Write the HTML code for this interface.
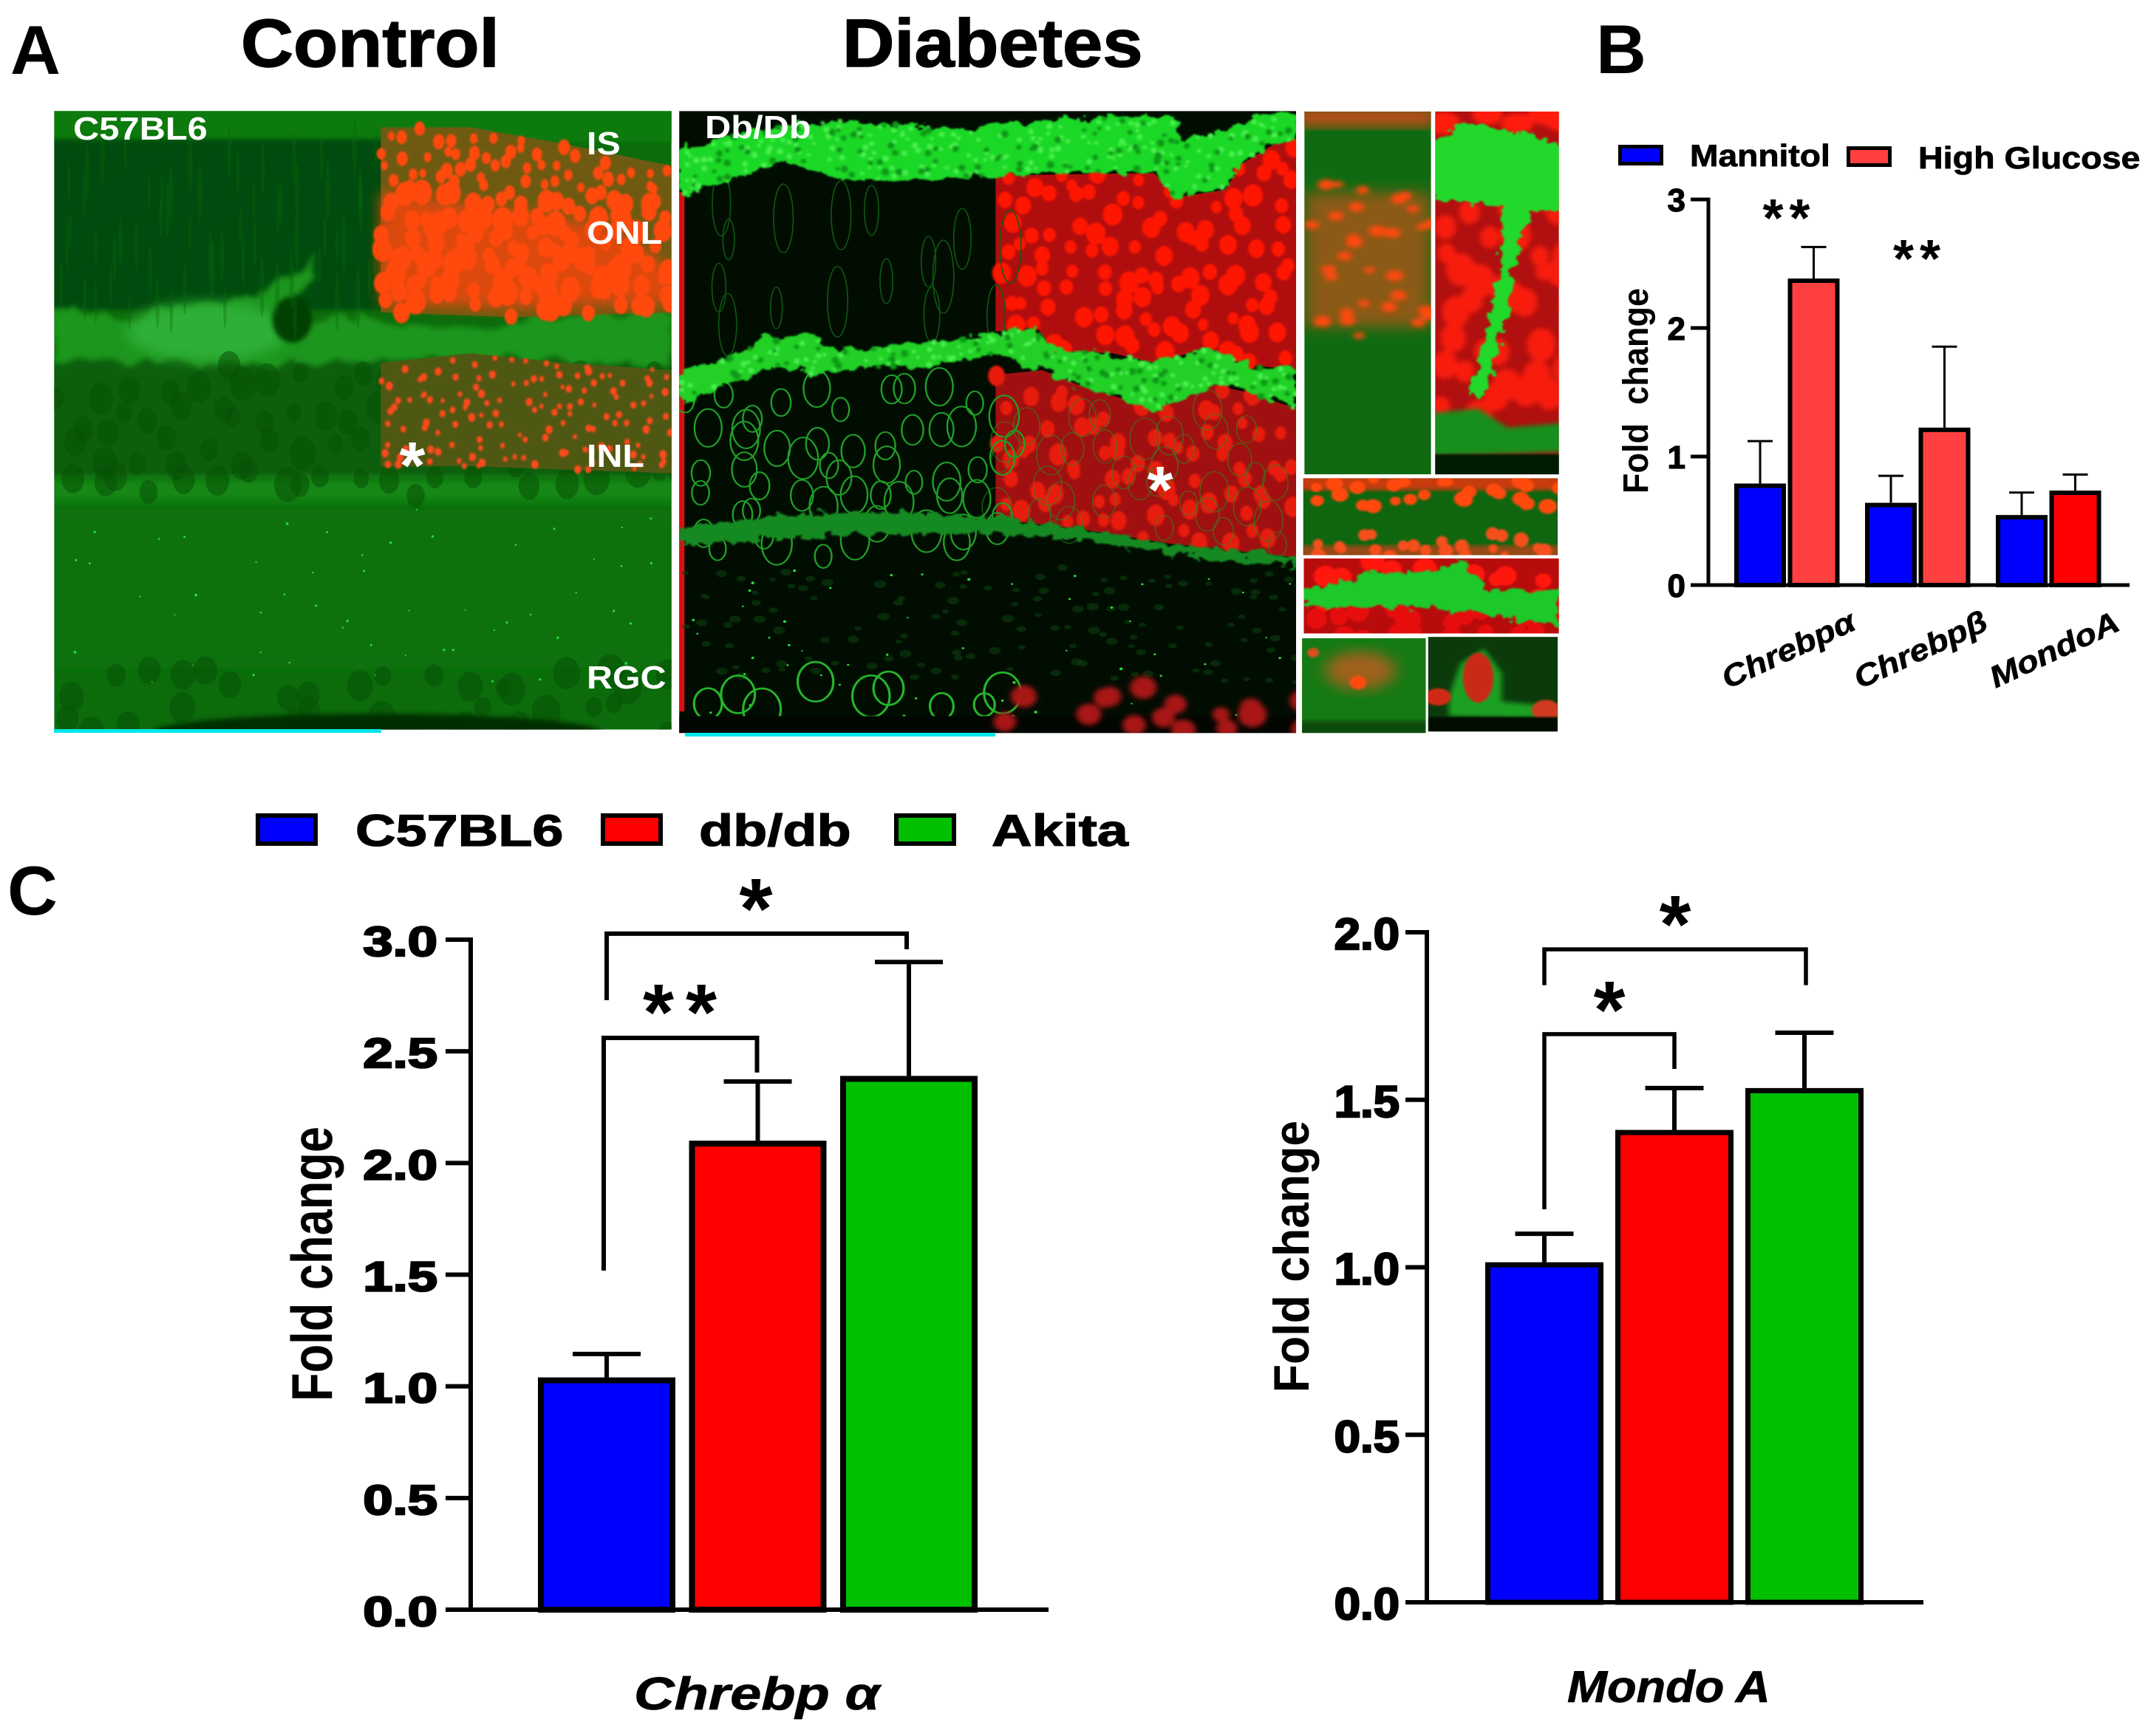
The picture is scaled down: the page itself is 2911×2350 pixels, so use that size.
<!DOCTYPE html>
<html lang="en">
<head>
<meta charset="utf-8">
<title>Chrebp and Mondo A in diabetic retina</title>
<style>
html,body{margin:0;padding:0;background:#fff;}
svg{display:block;font-family:"Liberation Sans",sans-serif;}
.pl{font-weight:700;fill:#000;}
.wl{font-weight:700;fill:#fff;}
</style>
</head>
<body>
<svg id="figure" xmlns="http://www.w3.org/2000/svg" width="2911" height="2350" viewBox="0 0 2911 2350">
<defs>
<filter id="b2" x="-10%" y="-10%" width="120%" height="120%"><feGaussianBlur stdDeviation="2"/></filter>
<filter id="b4" x="-10%" y="-10%" width="120%" height="120%"><feGaussianBlur stdDeviation="5"/></filter>
<filter id="b12" x="-20%" y="-20%" width="140%" height="140%"><feGaussianBlur stdDeviation="14"/></filter>
<filter id="rough" x="-8%" y="-25%" width="116%" height="150%"><feTurbulence type="fractalNoise" baseFrequency="0.045" numOctaves="3" seed="3" result="n"/><feDisplacementMap in="SourceGraphic" in2="n" scale="34" xChannelSelector="R" yChannelSelector="G"/><feGaussianBlur stdDeviation="1.6"/></filter>
<filter id="roughSoft" x="-8%" y="-25%" width="116%" height="150%"><feTurbulence type="fractalNoise" baseFrequency="0.02" numOctaves="3" seed="8" result="n"/><feDisplacementMap in="SourceGraphic" in2="n" scale="50" xChannelSelector="R" yChannelSelector="G"/><feGaussianBlur stdDeviation="6"/></filter>
<clipPath id="clipControl"><rect x="115" y="231" width="1310" height="1287"/></clipPath>
<clipPath id="clipDiabetes"><rect x="24" y="231" width="1047" height="1294"/></clipPath>
<clipPath id="clipI1"><rect x="1085" y="232" width="215" height="755"/></clipPath>
<clipPath id="clipI2"><rect x="1307" y="232" width="210" height="755"/></clipPath>
<clipPath id="clipI3"><rect x="1083" y="995" width="432" height="160"/></clipPath>
<clipPath id="clipI4"><rect x="1084" y="1162" width="433" height="156"/></clipPath>
<clipPath id="clipI5"><rect x="1081" y="1328" width="210" height="197"/></clipPath>
<clipPath id="clipI6"><rect x="1295" y="1325" width="220" height="197"/></clipPath>
</defs>

<text class="pl" x="14" y="100" font-size="94">A</text>
<text class="pl" x="2160" y="99" font-size="94">B</text>
<text class="pl" x="10" y="1238" font-size="94">C</text>
<text class="pl" stroke="#000" stroke-width="1.5" transform="translate(326,90) scale(1.07,1)" font-size="92">Control</text>
<text class="pl" stroke="#000" stroke-width="1.5" transform="translate(1140,90) scale(1.06,1)" font-size="92">Diabetes</text>

<g id="controlMicro" transform="scale(0.63776,0.65062)">
  <g clip-path="url(#clipControl)">
    <rect x="115" y="231" width="1310" height="1287" fill="#0c6c0c"/>
    <rect x="100" y="225" width="1340" height="70" fill="#0d7a10" filter="url(#b4)"/>
    <rect x="100" y="290" width="720" height="355" fill="#064c08" filter="url(#b4)"/>
    <rect x="100" y="745" width="1340" height="250" fill="#0a5f0b" filter="url(#b4)"/>
    <polygon fill="#1a961f" filter="url(#roughSoft)" points="115,640 250,665 400,640 520,620 680,540 600,680 720,650 808,670 1000,680 1425,640 1425,760 1000,745 808,750 600,760 300,750 115,750"/>
    <ellipse cx="440" cy="690" rx="170" ry="60" fill="#2fb038" filter="url(#b12)"/>
    <ellipse cx="620" cy="665" rx="42" ry="48" fill="#043f06" filter="url(#b4)"/>
    <rect x="100" y="995" width="1340" height="50" fill="#148a15" filter="url(#b12)"/>
    <rect x="100" y="1060" width="1340" height="330" fill="#0d720e" filter="url(#b12)"/>
    <g id="controlInner"></g>
    <ellipse cx="800" cy="1525" rx="480" ry="40" fill="#032f04" filter="url(#b4)"/>
    <polygon fill="#6f5a12" points="808,265 1000,265 1200,300 1425,345 1425,650 1090,660 808,650"/>
    <polygon fill="#dc4a10" filter="url(#b12)" points="808,400 1300,470 1425,560 1425,630 1090,640 808,630"/>
    <polygon fill="#4f5812" points="808,755 1000,735 1200,755 1425,770 1425,985 1000,970 808,970"/>
    <g id="controlNuclei" filter="url(#b2)"></g>
  </g>
</g>
<rect x="73" y="987" width="443" height="5" fill="#00e8e8"/>
<text class="wl" transform="translate(99,189) scale(1.11,1)" font-size="44">C57BL6</text>
<text class="wl" transform="translate(794,209) scale(1.1,1)" font-size="44">IS</text>
<text class="wl" transform="translate(794,330) scale(1.1,1)" font-size="44">ONL</text>
<text class="wl" transform="translate(794,632) scale(1.1,1)" font-size="44">INL</text>
<text class="wl" transform="translate(794,932) scale(1.1,1)" font-size="44">RGC</text>
<text class="wl" x="558" y="661" text-anchor="middle" font-size="90">*</text>

<g id="diabetesMicro" transform="translate(900,0) scale(0.79745,0.65062)">
  <g clip-path="url(#clipDiabetes)">
    <rect x="24" y="231" width="1047" height="1294" fill="#020d02"/>
    <rect x="24" y="400" width="9" height="1080" fill="#d81010"/>
    <polygon fill="#b00e0e" points="561,365 830,360 870,410 950,395 980,340 1040,295 1071,295 1071,770 1000,760 920,725 830,755 760,735 660,730 630,680 561,690"/>
    <polygon fill="#a01010" points="561,780 640,770 700,800 830,850 930,800 1000,820 1071,850 1071,1160 850,1130 700,1100 561,1080"/>
    <g id="diabetesNuclei" filter="url(#b2)"></g>
    <g id="diabetesOutlines"></g>
    <polygon fill="#1fd828" filter="url(#rough)" points="24,310 150,270 300,250 500,270 700,245 860,240 880,290 960,270 1010,232 1071,232 1071,295 1020,300 980,340 950,390 900,400 860,410 830,360 700,360 560,365 400,375 290,370 200,335 110,375 24,410"/>
    <polygon fill="#20d028" filter="url(#rough)" points="24,770 100,750 170,700 240,695 290,730 400,720 500,705 630,680 660,730 760,735 830,755 920,725 1000,760 1071,770 1071,850 1000,820 930,800 880,830 830,850 700,800 640,770 560,740 450,760 320,770 250,780 200,760 100,800 24,840"/>
    <polygon fill="#178a20" filter="url(#rough)" points="24,1100 200,1070 400,1065 561,1078 700,1098 850,1130 1071,1160 1071,1178 850,1152 700,1122 561,1110 300,1112 24,1135"/>
    <g id="diabetesBandTexture" filter="url(#b2)"></g>
    <g id="diabetesLower"></g>
    <rect x="24" y="1490" width="1047" height="40" fill="#010601"/>
    <g id="diabetesBottomRed" filter="url(#b4)"></g>
  </g>
  <g clip-path="url(#clipI1)">
    <rect x="1085" y="232" width="215" height="755" fill="#106a12"/>
    <rect x="1070" y="225" width="240" height="38" fill="#c84a12" filter="url(#b12)"/>
    <rect x="1085" y="400" width="215" height="280" fill="#8a5a14" filter="url(#b12)"/>
    <g id="inset1Nuclei" filter="url(#b4)"></g>
  </g>
  <g clip-path="url(#clipI2)">
    <rect x="1307" y="232" width="210" height="755" fill="#b01010"/>
    <g id="inset2Nuclei" filter="url(#b4)"></g>
    <polygon fill="#20d82a" filter="url(#rough)" points="1300,300 1360,250 1420,270 1525,300 1525,430 1470,440 1440,560 1420,700 1390,820 1370,830 1390,700 1420,560 1420,430 1300,410"/>
    <polygon fill="#148f1c" filter="url(#b4)" points="1300,860 1380,850 1430,890 1525,880 1525,940 1300,950"/>
    <rect x="1300" y="945" width="225" height="50" fill="#021a02" filter="url(#b2)"/>
  </g>
  <g clip-path="url(#clipI3)">
    <rect x="1083" y="995" width="432" height="160" fill="#10660f"/>
    <rect x="1075" y="990" width="450" height="30" fill="#c83a10" filter="url(#b4)"/>
    <rect x="1075" y="1135" width="450" height="25" fill="#9a4a12" filter="url(#b4)"/>
    <g id="inset3Nuclei" filter="url(#b2)"></g>
  </g>
  <g clip-path="url(#clipI4)">
    <rect x="1084" y="1162" width="433" height="156" fill="#b80c0c"/>
    <g id="inset4Nuclei" filter="url(#b2)"></g>
    <polygon fill="#1fc82a" filter="url(#rough)" points="1084,1230 1180,1195 1280,1190 1360,1170 1400,1230 1517,1225 1517,1300 1400,1280 1300,1265 1180,1260 1084,1265"/>
  </g>
  <g clip-path="url(#clipI5)">
    <rect x="1081" y="1328" width="210" height="197" fill="#147a14"/>
    <ellipse cx="1180" cy="1395" rx="60" ry="40" fill="#a0601a" filter="url(#b12)"/>
    <circle cx="1176" cy="1420" r="14" fill="#ff4a10" filter="url(#b2)"/>
    <circle cx="1100" cy="1358" r="10" fill="#d8501a" filter="url(#b2)"/>
    <rect x="1075" y="1500" width="220" height="30" fill="#0c4a0c" filter="url(#b4)"/>
  </g>
  <g clip-path="url(#clipI6)">
    <rect x="1295" y="1325" width="220" height="197" fill="#0b3a0b"/>
    <polygon fill="#1aa022" filter="url(#b4)" points="1350,1380 1390,1350 1420,1400 1420,1460 1515,1470 1515,1495 1330,1490 1330,1450"/>
    <ellipse cx="1380" cy="1410" rx="26" ry="52" fill="#c82a14" filter="url(#b2)"/>
    <ellipse cx="1312" cy="1450" rx="22" ry="18" fill="#d02a18" filter="url(#b2)"/>
    <ellipse cx="1495" cy="1478" rx="24" ry="22" fill="#d03a22" filter="url(#b2)"/>
    <rect x="1295" y="1492" width="220" height="32" fill="#030a03" filter="url(#b2)"/>
  </g>
</g>
<rect x="927" y="992" width="420" height="5" fill="#00e8e8"/>
<text class="wl" transform="translate(954,187) scale(1.11,1)" font-size="44">Db/Db</text>
<text class="wl" x="1570" y="694" text-anchor="middle" font-size="90">*</text>

<g id="chartB"></g>
<g id="chartC1"></g>
<g id="chartC2"></g>
<g id="legendC"></g>
</svg>

<script>
/* Chart data */
const bCategories = ['Chrebp\u03B1', 'Chrebp\u03B2', 'MondoA'];
const bSeriesNames = ['Mannitol', 'High Glucose'];
const bMannitolValues = [0.79, 0.64, 0.545];
const bMannitolUpper = [1.12, 0.85, 0.72];
const bGlucoseValues = [2.385, 1.225, 0.735];
const bGlucoseUpper = [2.63, 1.855, 0.86];
const bTicks = ['0', '1', '2', '3'];

const cCategories = ['C57BL6', 'db/db', 'Akita'];
const chrebpValues = [1.04, 2.10, 2.39];
const chrebpUpper = [1.145, 2.365, 2.90];
const chrebpTicks = ['0.0', '0.5', '1.0', '1.5', '2.0', '2.5', '3.0'];
const mondoValues = [1.015, 1.41, 1.535];
const mondoUpper = [1.10, 1.535, 1.70];
const mondoTicks = ['0.0', '0.5', '1.0', '1.5', '2.0'];

const svgNS = 'http://www.w3.org/2000/svg';
const BLUE = '#0000ff', RED = '#ff0000', GREEN = '#00c000', SOFTRED = '#ff4040';

function mk(parent, tag, attrs) {
  const e = document.createElementNS(svgNS, tag);
  for (const k in attrs) e.setAttribute(k, attrs[k]);
  parent.appendChild(e);
  return e;
}
function line(parent, x1, y1, x2, y2, sw) {
  return mk(parent, 'line', {x1: x1, y1: y1, x2: x2, y2: y2, stroke: '#000', 'stroke-width': sw});
}
function txt(parent, str, x, y, size, opt) {
  const o = opt || {};
  const t = mk(parent, 'text', {
    'font-size': size, 'font-weight': 700, 'font-style': o.italic ? 'italic' : 'normal',
    'text-anchor': o.anchor || 'start', fill: '#000', stroke: '#000', 'stroke-width': o.bold || 0,
    transform: 'translate(' + x + ',' + y + ') rotate(' + (o.rot || 0) + ') scale(' + (o.sx || 1) + ',1)'
  });
  t.textContent = str;
  return t;
}
function axisScale(y0, yTop, maxV) {
  return function (v) { return y0 - (v / maxV) * (y0 - yTop); };
}
function drawAxes(g, c, ticks) {
  const yAxis = line(g, c.x, c.y(parseFloat(ticks[ticks.length - 1])) - c.lw / 2, c.x, c.y0, c.lw);
  
  
  const xAxis = line(g, c.tickStart, c.y0, c.xEnd, c.y0, c.lw);
  
  
  ticks.forEach(function (label) {
    const yy = c.y(parseFloat(label));
    const tick = line(g, c.tickStart, yy, c.x, yy, c.lw);
    
    
    const t = txt(g, label, c.labelX, yy + c.labelDy, c.labelSize, {anchor: 'end', sx: c.labelSx, bold: c.labelBold});
    
    
  });
}
function drawBar(g, cx, value, upper, fill, c, name) {
  const err = line(g, cx, c.y(upper), cx, c.y(value), c.errW);
  
  
  const cap = line(g, cx - c.capW / 2, c.y(upper), cx + c.capW / 2, c.y(upper), c.errW);
  
  
  const top = c.y(value) + c.barSw / 2;
  const bar = mk(g, 'rect', {
    x: cx - c.barW / 2 + c.barSw / 2, y: top, width: c.barW - c.barSw, height: Math.max(0, c.y0 - top),
    fill: fill, stroke: '#000', 'stroke-width': c.barSw
  });
  
  
}
function bracket(g, xL, xR, topV, botL, botR, c) {
  const p = mk(g, 'polyline', {
    points: xL + ',' + c.y(botL) + ' ' + xL + ',' + c.y(topV) + ' ' + xR + ',' + c.y(topV) + ' ' + xR + ',' + c.y(botR),
    fill: 'none', stroke: '#000', 'stroke-width': c.bracketW
  });
  
  
}
function stars(g, str, x, y, size, ls) {
  const t = mk(g, 'text', {
    x: x + ls / 2, y: y + size * 0.5, 'font-size': size, 'font-weight': 700,
    'text-anchor': 'middle', 'letter-spacing': ls, fill: '#000'
  });
  t.textContent = str;
  
  
}
function swatch(g, x, y, w, h, fill, sw, name) {
  const s = mk(g, 'rect', {x: x + sw / 2, y: y + sw / 2, width: w - sw, height: h - sw, fill: fill, stroke: '#000', 'stroke-width': sw});
  
  
}

/* Panel B */
(function () {
  const g = document.getElementById('chartB');
  const c = {
    x: 2312, y0: 792, y: axisScale(792, 270, 3), lw: 5, tickStart: 2288, xEnd: 2882,
    labelX: 2281, labelDy: 16, labelSize: 44, labelSx: 1, labelBold: 1.2,
    barW: 70, barSw: 6, capW: 34, errW: 3
  };
  const first = 2382, step = 177, gap = 72.5;
  const labelShift = [44, 46, 50];
  bCategories.forEach(function (cat, i) {
    const cx = first + i * step;
    drawBar(g, cx, bMannitolValues[i], bMannitolUpper[i], BLUE, c, 'bar-mannitol-' + i);
    drawBar(g, cx + gap, bGlucoseValues[i], bGlucoseUpper[i], i === 2 ? RED : SOFTRED, c, 'bar-high-glucose-' + i);
    const t = txt(g, cat, cx + labelShift[i], 892, 41, {italic: true, anchor: 'middle', rot: -25, sx: 1.15, bold: 0.6});
    
    
  });
  drawAxes(g, c, bTicks);
  const yt = txt(g, 'Fold\u00A0\u00A0change', 2230, 529, 48, {anchor: 'middle', rot: -90, sx: 0.94});
  
  
  stars(g, '**', 2417.5, 284, 72, 8);
  stars(g, '**', 2594, 339, 72, 8);
  swatch(g, 2190, 196, 61, 28, BLUE, 5, 'legend-swatch-mannitol');
  const l1 = txt(g, bSeriesNames[0], 2287, 225, 42, {sx: 1.1, bold: 0.8});
  
  
  swatch(g, 2499, 198, 61, 28, SOFTRED, 5, 'legend-swatch-high-glucose');
  const l2 = txt(g, bSeriesNames[1], 2596, 228, 42, {sx: 1.11, bold: 0.8});
  
  
})();

/* Panel C legend */
(function () {
  const g = document.getElementById('legendC');
  const colors = [BLUE, RED, GREEN];
  const swX = [346, 813, 1210], txX = [481, 946, 1342];
  cCategories.forEach(function (cat, i) {
    swatch(g, swX[i], 1101, 84, 44, colors[i], 6, 'legend-swatch-' + i);
    const t = txt(g, cat, txX[i], 1145, 60, {sx: 1.26, bold: 1.2});
    
    
  });
})();

/* Panel C – Chrebp alpha */
(function () {
  const g = document.getElementById('chartC1');
  const c = {
    x: 637, y0: 2179, y: axisScale(2179, 1272, 3), lw: 6, tickStart: 603, xEnd: 1419,
    labelX: 592, labelDy: 22, labelSize: 57, labelSx: 1.27, labelBold: 2.4,
    barW: 186, barSw: 8, capW: 92, errW: 6, bracketW: 6
  };
  const first = 821, step = 204.5, colors = [BLUE, RED, GREEN];
  cCategories.forEach(function (cat, i) {
    drawBar(g, first + i * step, chrebpValues[i], chrebpUpper[i], colors[i], c, 'bar-chrebp-' + i);
  });
  drawAxes(g, c, chrebpTicks);
  bracket(g, first - 4, first + step - 1, 2.56, 1.518, 2.405, c);
  bracket(g, first, first + 2 * step - 3, 3.027, 2.729, 2.957, c);
  stars(g, '*', 1023, 1212, 116, 0);
  stars(g, '**', 920, 1353, 108, 16);
  const yt = txt(g, 'Fold change', 449, 1711, 78, {anchor: 'middle', rot: -90, sx: 0.81});
  
  
  const xt = txt(g, 'Chrebp \u03B1', 858, 2314, 62, {italic: true, sx: 1.22, bold: 0.8});
  
  
})();

/* Panel C – Mondo A */
(function () {
  const g = document.getElementById('chartC2');
  const c = {
    x: 1931, y0: 2169, y: axisScale(2169, 1262, 2), lw: 6, tickStart: 1902, xEnd: 2603,
    labelX: 1894, labelDy: 23, labelSize: 60, labelSx: 1.06, labelBold: 2.4,
    barW: 160, barSw: 7, capW: 79, errW: 6, bracketW: 5.5
  };
  const first = 2090, step = 176, colors = [BLUE, RED, GREEN];
  cCategories.forEach(function (cat, i) {
    drawBar(g, first + i * step, mondoValues[i], mondoUpper[i], colors[i], c, 'bar-mondo-' + i);
  });
  drawAxes(g, c, mondoTicks);
  bracket(g, first, first + step, 1.696, 1.173, 1.592, c);
  bracket(g, first, first + 2 * step + 2, 1.949, 1.842, 1.842, c);
  stars(g, '*', 2267, 1234, 110, 0);
  stars(g, '*', 2178, 1350, 110, 0);
  const yt = txt(g, 'Fold change', 1771, 1701, 68, {anchor: 'middle', rot: -90, sx: 0.92});
  
  
  const xt = txt(g, 'Mondo A', 2121, 2304, 60, {italic: true, sx: 1.08, bold: 0.8});
  
  
})();

/* Micrograph texture (decorative, not chart data) */
let texSeed = 4242;
function tex() { texSeed = (texSeed * 16807) % 2147483647; return texSeed / 2147483647; }
function inPoly(x, y, pts) {
  let inside = false;
  for (let i = 0, j = pts.length - 1; i < pts.length; j = i++) {
    const xi = pts[i][0], yi = pts[i][1], xj = pts[j][0], yj = pts[j][1];
    if ((yi > y) !== (yj > y) && x < (xj - xi) * (y - yi) / (yj - yi) + xi) inside = !inside;
  }
  return inside;
}
function scatter(id, box, stepX, stepY, rx, ry, fill, o) {
  const opt = o || {};
  const g = document.getElementById(id);
  for (let y = box[1]; y < box[3]; y += stepY) {
    for (let x = box[0]; x < box[2]; x += stepX) {
      if (opt.keep !== undefined && tex() > opt.keep) continue;
      const px = x + tex() * stepX, py = y + tex() * stepY;
      if (opt.poly && !inPoly(px, py, opt.poly)) continue;
      const s = 0.7 + tex() * 0.6;
      const a = {cx: px, cy: py, rx: rx * s, ry: ry * s, fill: opt.stroke ? 'none' : fill};
      if (opt.stroke) { a.stroke = fill; a['stroke-width'] = opt.stroke; }
      if (opt.opacity) a.opacity = opt.opacity;
      mk(g, 'ellipse', a);
    }
  }
}
const onlC = [[808,265],[1000,265],[1200,300],[1425,345],[1425,650],[1090,660],[808,650]];
const inlC = [[808,755],[1000,735],[1200,755],[1425,770],[1425,985],[1000,970],[808,970]];
const bandOuter = [[24,310],[150,270],[300,250],[500,270],[700,245],[860,240],[880,290],[960,270],[1010,232],[1071,232],[1071,295],[1020,300],[980,340],[950,390],[900,400],[860,410],[830,360],[700,360],[560,365],[400,375],[290,370],[200,335],[110,375],[24,410]];
const bandMiddle = [[24,770],[100,750],[170,700],[240,695],[290,730],[400,720],[500,705],[630,680],[660,730],[760,735],[830,755],[920,725],[1000,760],[1071,770],[1071,850],[1000,820],[930,800],[880,830],[830,850],[700,800],[640,770],[560,740],[450,760],[320,770],[250,780],[200,760],[100,800],[24,840]];
scatter('controlInner', [115,760,1425,990], 62, 70, 22, 28, '#075206', {opacity: 0.55});
scatter('controlInner', [115,300,808,640], 34, 120, 4, 50, '#0a6a0c', {opacity: 0.35});
scatter('controlInner', [115,1060,1425,1380], 70, 60, 2.2, 2.2, '#2adf3a', {keep: 0.45});
scatter('controlInner', [115,1390,1425,1490], 74, 70, 24, 28, '#075406', {opacity: 0.6});
scatter('controlNuclei', [808,265,1425,400], 36, 34, 10, 13, '#ff4a10', {poly: onlC});
scatter('controlNuclei', [808,400,1425,660], 36, 34, 17, 21, '#ff4a10', {poly: onlC});
scatter('controlNuclei', [808,740,1425,985], 30, 28, 6, 7, '#ff4a1a', {poly: inlC, keep: 0.8});

const onlD = [[561,365],[830,360],[870,410],[950,395],[980,340],[1040,295],[1071,295],[1071,770],[1000,760],[920,725],[830,755],[760,735],[660,730],[630,680],[561,690]];
const inlD = [[561,780],[640,770],[700,800],[830,850],[930,800],[1000,820],[1071,850],[1071,1160],[850,1130],[700,1100],[561,1080]];
scatter('diabetesNuclei', [561,300,1071,780], 38, 48, 13, 18, '#ff1200', {poly: onlD});
scatter('diabetesNuclei', [561,770,1071,1160], 40, 52, 12, 18, '#e81c08', {poly: inlD});
scatter('diabetesOutlines', [33,800,561,1090], 52, 72, 20, 34, '#1fa028', {stroke: 3});
scatter('diabetesOutlines', [561,850,1071,1130], 52, 72, 20, 34, '#2a8a20', {stroke: 2, opacity: 0.6, poly: inlD});
scatter('diabetesOutlines', [33,420,561,690], 70, 150, 14, 60, '#0d5a10', {stroke: 2});
scatter('diabetesBandTexture', [24,232,1071,420], 16, 16, 4, 5, '#49f04e', {poly: bandOuter, keep: 0.45});
scatter('diabetesBandTexture', [24,232,1071,420], 20, 20, 5, 6, '#0f9a18', {poly: bandOuter, keep: 0.35});
scatter('diabetesBandTexture', [24,680,1071,860], 16, 16, 4, 5, '#49f04e', {poly: bandMiddle, keep: 0.45});
scatter('diabetesBandTexture', [24,680,1071,860], 20, 20, 5, 6, '#0f9a18', {poly: bandMiddle, keep: 0.35});
scatter('diabetesLower', [24,1180,1071,1400], 34, 30, 8, 6, '#0b3d0e', {keep: 0.5, opacity: 0.6});
scatter('diabetesLower', [24,1180,1071,1480], 50, 40, 2.2, 2.2, '#2adf3a', {keep: 0.35});
scatter('diabetesLower', [33,1415,561,1480], 64, 70, 25, 34, '#25b52a', {stroke: 4});
scatter('diabetesBottomRed', [561,1425,1071,1520], 48, 50, 19, 20, '#a81414', {keep: 0.7});
scatter('inset1Nuclei', [1085,380,1300,700], 42, 40, 12, 9, '#ff4a10', {keep: 0.7});
scatter('inset2Nuclei', [1307,420,1517,860], 48, 64, 20, 28, '#f81a08');
scatter('inset2Nuclei', [1307,232,1517,260], 50, 30, 24, 20, '#ff1a08');
scatter('inset3Nuclei', [1083,995,1515,1030], 34, 30, 12, 12, '#ff4a10');
scatter('inset3Nuclei', [1083,1110,1515,1155], 36, 30, 10, 12, '#f5501c');
scatter('inset4Nuclei', [1084,1162,1517,1215], 42, 50, 18, 20, '#ff1408');
scatter('inset4Nuclei', [1084,1262,1517,1318], 42, 50, 18, 22, '#e81008');
</script>
</body>
</html>
